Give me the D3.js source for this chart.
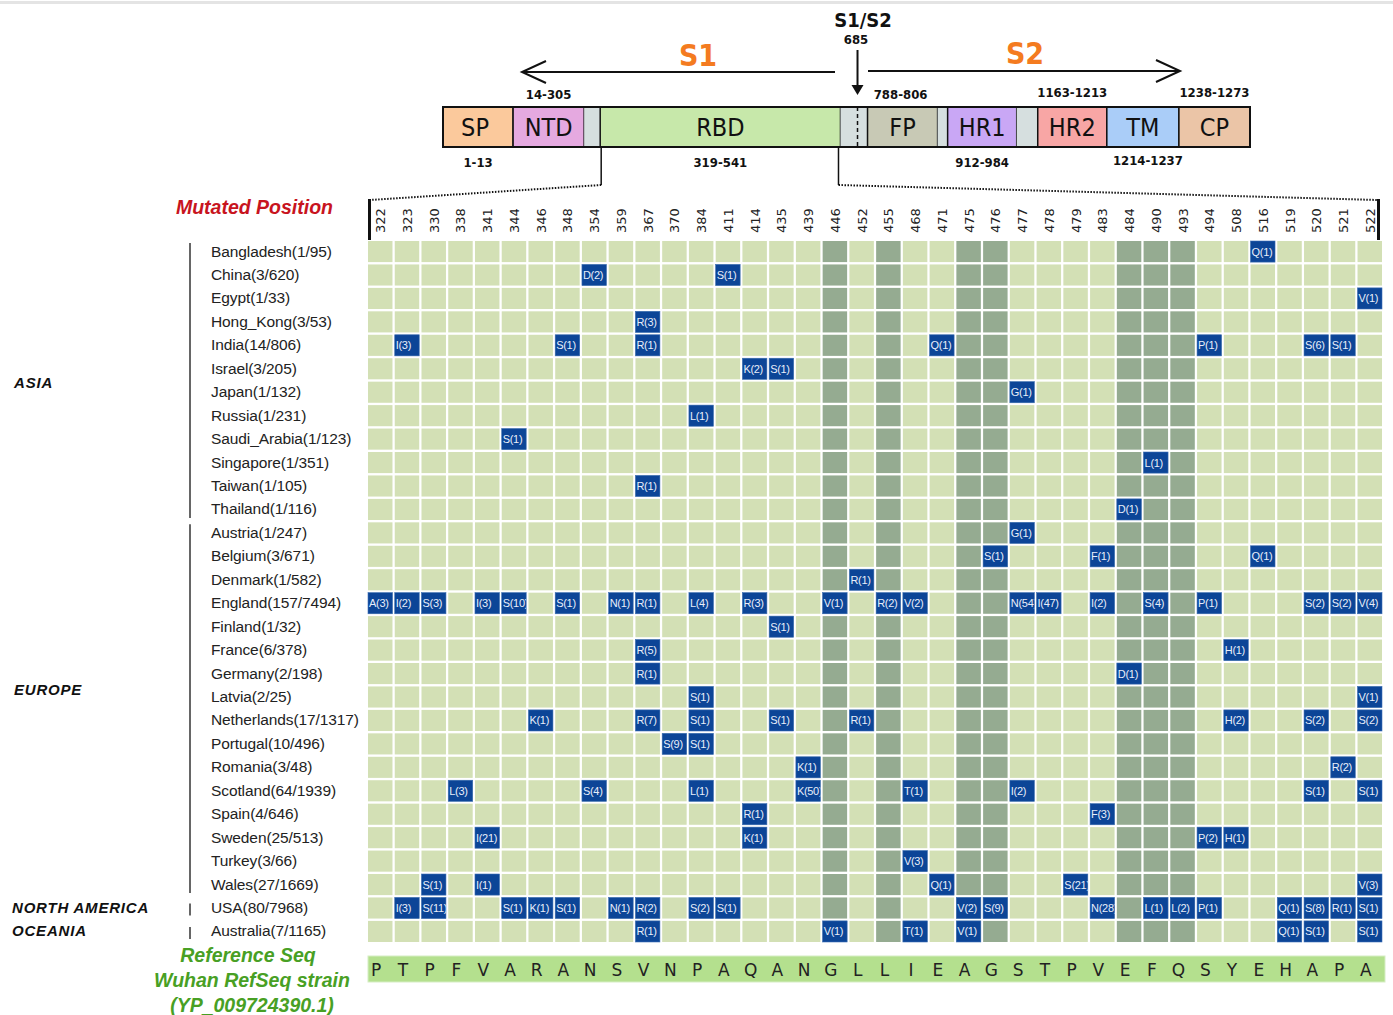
<!DOCTYPE html>
<html>
<head>
<meta charset="utf-8">
<script src="https://cdn.jsdelivr.net/npm/d3@7"></script>
<style>
  body { margin: 0; background: #fff; }
  svg { display: block; }
</style>
</head>
<body>
<script>
(function () {
  "use strict";

  // mutated positions in the RBD region (columns)
  var positions = [322, 323, 330, 338, 341, 344, 346, 348, 354, 359, 367, 370, 384, 411, 414, 435, 439,
    446, 452, 455, 468, 471, 475, 476, 477, 478, 479, 483, 484, 490, 493, 494, 508, 516, 519, 520, 521, 522];
  var refSeq = ["P", "T", "P", "F", "V", "A", "R", "A", "N", "S", "V", "N", "P", "A", "Q", "A", "N", "G", "L",
    "L", "I", "E", "A", "G", "S", "T", "P", "V", "E", "F", "Q", "S", "Y", "E", "H", "A", "P", "A"];
  // positions shaded as contact residues
  var contactPositions = [446, 455, 475, 476, 484, 490, 493];

  var countries = ["Bangladesh(1/95)", "China(3/620)", "Egypt(1/33)", "Hong_Kong(3/53)", "India(14/806)",
    "Israel(3/205)", "Japan(1/132)", "Russia(1/231)", "Saudi_Arabia(1/123)", "Singapore(1/351)",
    "Taiwan(1/105)", "Thailand(1/116)", "Austria(1/247)", "Belgium(3/671)", "Denmark(1/582)",
    "England(157/7494)", "Finland(1/32)", "France(6/378)", "Germany(2/198)", "Latvia(2/25)",
    "Netherlands(17/1317)", "Portugal(10/496)", "Romania(3/48)", "Scotland(64/1939)", "Spain(4/646)",
    "Sweden(25/513)", "Turkey(3/66)", "Wales(27/1669)", "USA(80/7968)", "Australia(7/1165)"];

  var regions = ["ASIA", "EUROPE", "NORTH AMERICA", "OCEANIA"];
  var regionFirst = [0, 12, 28, 29];
  var regionLast = [11, 27, 28, 29];

  // [row index, position, substitution(count)]
  var mutations = [
    [0, 516, "Q(1)"],
    [1, 354, "D(2)"], [1, 411, "S(1)"],
    [2, 522, "V(1)"],
    [3, 367, "R(3)"],
    [4, 323, "I(3)"], [4, 348, "S(1)"], [4, 367, "R(1)"], [4, 471, "Q(1)"], [4, 494, "P(1)"], [4, 520, "S(6)"], [4, 521, "S(1)"],
    [5, 414, "K(2)"], [5, 435, "S(1)"],
    [6, 477, "G(1)"],
    [7, 384, "L(1)"],
    [8, 344, "S(1)"],
    [9, 490, "L(1)"],
    [10, 367, "R(1)"],
    [11, 484, "D(1)"],
    [12, 477, "G(1)"],
    [13, 476, "S(1)"], [13, 483, "F(1)"], [13, 516, "Q(1)"],
    [14, 452, "R(1)"],
    [15, 322, "A(3)"], [15, 323, "I(2)"], [15, 330, "S(3)"], [15, 341, "I(3)"], [15, 344, "S(10)"], [15, 348, "S(1)"],
    [15, 359, "N(1)"], [15, 367, "R(1)"], [15, 384, "L(4)"], [15, 414, "R(3)"], [15, 446, "V(1)"], [15, 455, "R(2)"],
    [15, 468, "V(2)"], [15, 477, "N(54)"], [15, 478, "I(47)"], [15, 483, "I(2)"], [15, 490, "S(4)"], [15, 494, "P(1)"],
    [15, 520, "S(2)"], [15, 521, "S(2)"], [15, 522, "V(4)"],
    [16, 435, "S(1)"],
    [17, 367, "R(5)"], [17, 508, "H(1)"],
    [18, 367, "R(1)"], [18, 484, "D(1)"],
    [19, 384, "S(1)"], [19, 522, "V(1)"],
    [20, 346, "K(1)"], [20, 367, "R(7)"], [20, 384, "S(1)"], [20, 435, "S(1)"], [20, 452, "R(1)"], [20, 508, "H(2)"],
    [20, 520, "S(2)"], [20, 522, "S(2)"],
    [21, 370, "S(9)"], [21, 384, "S(1)"],
    [22, 439, "K(1)"], [22, 521, "R(2)"],
    [23, 338, "L(3)"], [23, 354, "S(4)"], [23, 384, "L(1)"], [23, 439, "K(50)"], [23, 468, "T(1)"], [23, 477, "I(2)"],
    [23, 520, "S(1)"], [23, 522, "S(1)"],
    [24, 414, "R(1)"], [24, 483, "F(3)"],
    [25, 341, "I(21)"], [25, 414, "K(1)"], [25, 494, "P(2)"], [25, 508, "H(1)"],
    [26, 468, "V(3)"],
    [27, 330, "S(1)"], [27, 341, "I(1)"], [27, 471, "Q(1)"], [27, 479, "S(21)"], [27, 522, "V(3)"],
    [28, 323, "I(3)"], [28, 330, "S(11)"], [28, 344, "S(1)"], [28, 346, "K(1)"], [28, 348, "S(1)"], [28, 359, "N(1)"],
    [28, 367, "R(2)"], [28, 384, "S(2)"], [28, 411, "S(1)"], [28, 475, "V(2)"], [28, 476, "S(9)"], [28, 483, "N(28)"],
    [28, 490, "L(1)"], [28, 493, "L(2)"], [28, 494, "P(1)"], [28, 519, "Q(1)"], [28, 520, "S(8)"], [28, 521, "R(1)"],
    [28, 522, "S(1)"],
    [29, 367, "R(1)"], [29, 446, "V(1)"], [29, 468, "T(1)"], [29, 475, "V(1)"], [29, 519, "Q(1)"], [29, 520, "S(1)"],
    [29, 522, "S(1)"]
  ];

  // spike protein domains
  var domainNames = ["SP", "NTD", "", "RBD", "", "FP", "", "HR1", "", "HR2", "TM", "CP"];
  var domainColors = ["#fbc99c", "#e5a9e0", "#d6dfdf", "#c7e8aa", "#d6dfdf", "#c8c9b5", "#d6dfdf",
    "#c9a7f5", "#d6dfdf", "#f8a6a5", "#aacdf8", "#ebc5a7"];
  var rangesAbove = ["", "14-305", "", "", "", "788-806", "", "", "", "1163-1213", "", "1238-1273"];
  var rangesBelow = ["1-13", "", "", "319-541", "", "", "", "912-984", "", "", "1214-1237", ""];

  var W = 1393, H = 1015;
  var svg = d3.select("body").append("svg")
      .attr("width", W)
      .attr("height", H);

  var font = "'Liberation Sans', Arial, sans-serif";
  var cond = "'DejaVu Sans Condensed', 'DejaVu Sans', sans-serif";

  svg.append("rect").attr("x", 0).attr("y", 1).attr("width", W).attr("height", 3).attr("fill", "#e4e4e4");

  // ---------- domain diagram ----------
  // schematic widths (not to scale, like the original)
  var widths = [70, 71, 16, 240, 27, 70, 10, 69, 21, 69, 72, 71];
  var edges = [0];
  widths.forEach(function (w, i) { edges.push(edges[i] + w); });
  var bx = d3.scaleLinear().domain([0, edges[edges.length - 1]]).range([443, 1250]);
  var barTop = 107, barH = 40;

  var dom = svg.append("g");
  dom.selectAll("rect.dom")
      .data(domainNames)
      .enter()
    .append("rect")
      .attr("class", "dom")
      .attr("x", function (d, i) { return bx(edges[i]); })
      .attr("y", barTop)
      .attr("width", function (d, i) { return bx(edges[i + 1]) - bx(edges[i]); })
      .attr("height", barH)
      .attr("fill", function (d, i) { return domainColors[i]; })
      .attr("stroke", function (d) { return d ? "#111" : "none"; })
      .attr("stroke-width", 1.5);
  dom.append("rect")
      .attr("x", bx(0)).attr("y", barTop)
      .attr("width", bx(edges[edges.length - 1]) - bx(0)).attr("height", barH)
      .attr("fill", "none").attr("stroke", "#111").attr("stroke-width", 2);
  dom.selectAll("text.dname")
      .data(domainNames)
      .enter()
    .append("text")
      .attr("class", "dname")
      .attr("x", function (d, i) { return (bx(edges[i]) + bx(edges[i + 1])) / 2 - (i === 0 ? 3 : 0); })
      .attr("y", barTop + 29)
      .attr("text-anchor", "middle")
      .style("font-family", cond)
      .style("font-size", "25px")
      .attr("fill", "#111")
      .text(function (d) { return d; });
  dom.selectAll("text.above")
      .data(rangesAbove)
      .enter()
    .append("text")
      .attr("class", "above")
      .attr("x", function (d, i) { return (bx(edges[i]) + bx(edges[i + 1])) / 2 + (i === 5 ? -2 : 0); })
      .attr("y", function (d, i) { return i >= 9 ? barTop - 10 : barTop - 8; })
      .attr("text-anchor", "middle")
      .style("font-family", cond)
      .style("font-size", "13px")
      .style("font-weight", "bold")
      .attr("fill", "#111")
      .text(function (d) { return d; });
  dom.selectAll("text.below")
      .data(rangesBelow)
      .enter()
    .append("text")
      .attr("class", "below")
      .attr("x", function (d, i) { return (bx(edges[i]) + bx(edges[i + 1])) / 2 + (i === 10 ? 5 : 0); })
      .attr("y", function (d, i) { return i === 10 ? barTop + 58 : barTop + 60; })
      .attr("text-anchor", "middle")
      .style("font-family", cond)
      .style("font-size", "13px")
      .style("font-weight", "bold")
      .attr("fill", "#111")
      .text(function (d) { return d; });

  // cleavage site dashed line
  var cleave = bx(edges[4] + 17);
  dom.append("line")
      .attr("x1", cleave).attr("x2", cleave)
      .attr("y1", barTop).attr("y2", barTop + barH)
      .attr("stroke", "#111").attr("stroke-width", 1.5).attr("stroke-dasharray", "4,3");

  // S1/S2 label and arrow
  dom.append("text").attr("x", 863).attr("y", 27).attr("text-anchor", "middle")
      .style("font-family", cond).style("font-size", "20px").style("font-weight", "bold")
      .attr("fill", "#111").text("S1/S2");
  dom.append("text").attr("x", 856).attr("y", 44).attr("text-anchor", "middle")
      .style("font-family", cond).style("font-size", "13px").style("font-weight", "bold")
      .attr("fill", "#111").text("685");
  dom.append("line").attr("x1", cleave).attr("x2", cleave).attr("y1", 50).attr("y2", 86)
      .attr("stroke", "#111").attr("stroke-width", 2);
  dom.append("path")
      .attr("d", "M" + (cleave - 6) + ",85L" + (cleave + 6) + ",85L" + cleave + ",95Z")
      .attr("fill", "#111");

  // S1 / S2 arrows
  var arrows = dom.append("g").attr("stroke", "#111").attr("stroke-width", 2).attr("fill", "none");
  arrows.append("line").attr("x1", 835).attr("x2", 522).attr("y1", 72).attr("y2", 72);
  arrows.append("path").attr("d", "M546,61L522,72L546,83");
  arrows.append("line").attr("x1", 868).attr("x2", 1180).attr("y1", 71).attr("y2", 71);
  arrows.append("path").attr("d", "M1156,60L1180,71L1156,82");
  dom.append("text").attr("x", 698).attr("y", 66).attr("text-anchor", "middle")
      .style("font-family", cond).style("font-size", "30px").style("font-weight", "bold")
      .attr("fill", "#f47b20").text("S1");
  dom.append("text").attr("x", 1025).attr("y", 64).attr("text-anchor", "middle")
      .style("font-family", cond).style("font-size", "30px").style("font-weight", "bold")
      .attr("fill", "#f47b20").text("S2");

  // ---------- mutation grid ----------
  var x = d3.scaleBand().domain(positions).range([368, 1382]).paddingInner(0.085);
  var y = d3.scaleBand().domain(d3.range(countries.length)).range([241, 942]).paddingInner(0.1);

  // zoom lines from RBD to grid
  var rbdL = bx(edges[3]) + 1, rbdR = bx(edges[4]) - 2;
  var zl = svg.append("g").attr("stroke", "#111").attr("fill", "none");
  zl.append("line").attr("x1", rbdL).attr("x2", rbdL).attr("y1", barTop + barH).attr("y2", 185).attr("stroke-width", 1.5);
  zl.append("line").attr("x1", rbdR).attr("x2", rbdR).attr("y1", barTop + barH).attr("y2", 185).attr("stroke-width", 1.5);
  zl.append("line").attr("x1", rbdL).attr("y1", 185).attr("x2", 370).attr("y2", 200)
      .attr("stroke-width", 2).attr("stroke-dasharray", "1.5,1.5");
  zl.append("line").attr("x1", rbdR).attr("y1", 185).attr("x2", 1378).attr("y2", 200)
      .attr("stroke-width", 2).attr("stroke-dasharray", "1.5,1.5");
  zl.append("line").attr("x1", 369.5).attr("x2", 369.5).attr("y1", 199).attr("y2", 240).attr("stroke-width", 3);
  zl.append("line").attr("x1", 1378.5).attr("x2", 1378.5).attr("y1", 199).attr("y2", 240).attr("stroke-width", 3);

  // column headers
  svg.append("g").selectAll("text")
      .data(positions)
      .enter()
    .append("text")
      .attr("transform", function (d) {
        return "translate(" + (x(d) + x.bandwidth() / 2 + 5) + ",233) rotate(-90)";
      })
      .style("font-family", "'DejaVu Sans', sans-serif")
      .style("font-size", "13px")
      .attr("fill", "#222")
      .text(function (d) { return d; });

  svg.append("text").attr("x", 333).attr("y", 214).attr("text-anchor", "end")
      .style("font-family", font).style("font-size", "19.5px").style("font-weight", "bold")
      .style("font-style", "italic").attr("fill", "#c8141e").text("Mutated Position");

  // background cells
  var cells = [];
  countries.forEach(function (c, r) {
    positions.forEach(function (p) { cells.push({ r: r, p: p }); });
  });
  svg.append("g").selectAll("rect")
      .data(cells)
      .enter()
    .append("rect")
      .attr("x", function (d) { return x(d.p); })
      .attr("y", function (d) { return y(d.r); })
      .attr("width", x.bandwidth())
      .attr("height", y.bandwidth())
      .attr("fill", function (d) { return contactPositions.indexOf(d.p) >= 0 ? "#95ab91" : "#d3e0b5"; });

  // mutation cells
  var defs = svg.append("defs");
  defs.selectAll("clipPath")
      .data(mutations)
      .enter()
    .append("clipPath")
      .attr("id", function (d, i) { return "clip" + i; })
    .append("rect")
      .attr("x", function (d) { return x(d[1]); })
      .attr("y", function (d) { return y(d[0]); })
      .attr("width", x.bandwidth())
      .attr("height", y.bandwidth());
  var mut = svg.append("g").selectAll("g")
      .data(mutations)
      .enter()
    .append("g");
  mut.append("rect")
      .attr("x", function (d) { return x(d[1]); })
      .attr("y", function (d) { return y(d[0]); })
      .attr("width", x.bandwidth())
      .attr("height", y.bandwidth())
      .attr("fill", "#0c4597")
      .attr("stroke", "#3d6fb8")
      .attr("stroke-width", 0.6);
  mut.append("text")
      .attr("clip-path", function (d, i) { return "url(#clip" + i + ")"; })
      .attr("x", function (d) { return x(d[1]) + 1; })
      .attr("y", function (d) { return y(d[0]) + y.bandwidth() / 2 + 4; })
      .style("font-family", font)
      .style("font-size", "11px")
      .style("letter-spacing", "-0.3px")
      .attr("fill", "#e8eefa")
      .text(function (d) { return d[2]; });

  // country labels
  svg.append("g").selectAll("text")
      .data(countries)
      .enter()
    .append("text")
      .attr("x", 211)
      .attr("y", function (d, i) { return y(i) + y.bandwidth() / 2 + 5; })
      .style("font-family", font)
      .style("font-size", "15.5px")
      .style("letter-spacing", "-0.1px")
      .attr("fill", "#222")
      .text(function (d) { return d; });

  // region brackets and labels
  var reg = svg.append("g");
  reg.selectAll("line")
      .data(regions)
      .enter()
    .append("line")
      .attr("x1", 190).attr("x2", 190)
      .attr("y1", function (d, i) { return regionFirst[i] === regionLast[i] ? y(regionFirst[i]) + 6 : y(regionFirst[i]) + 2; })
      .attr("y2", function (d, i) { return regionFirst[i] === regionLast[i] ? y(regionLast[i]) + 18 : y(regionLast[i]) + y.bandwidth() - 2; })
      .attr("stroke", "#666").attr("stroke-width", 2);
  reg.selectAll("text")
      .data(regions)
      .enter()
    .append("text")
      .attr("x", function (d, i) { return i < 2 ? 14 : 12; })
      .attr("y", function (d, i) {
        var mid = (y(regionFirst[i]) + y(regionLast[i]) + y.bandwidth()) / 2;
        return i === 0 ? mid + 8 : (i === 1 ? mid - 14 : mid + 5);
      })
      .style("font-family", font)
      .style("font-size", "15px")
      .style("font-weight", "bold")
      .style("font-style", "italic")
      .style("letter-spacing", "0.8px")
      .attr("fill", "#111")
      .text(function (d) { return d; });

  // reference sequence
  svg.append("rect").attr("x", 368).attr("y", 956).attr("width", 1385 - 368).attr("height", 26)
      .attr("fill", "#b4e08e").attr("stroke", "#d6eec4");
  svg.append("g").selectAll("text")
      .data(refSeq)
      .enter()
    .append("text")
      .attr("x", function (d, i) { return x(positions[i]) + x.bandwidth() / 2 - 4; })
      .attr("y", 976)
      .attr("text-anchor", "middle")
      .style("font-family", "'DejaVu Sans', sans-serif")
      .style("font-size", "17px")
      .attr("fill", "#222")
      .text(function (d) { return d; });

  var refLabel = ["Reference Seq", "Wuhan RefSeq strain", "(YP_009724390.1)"];
  svg.append("g").selectAll("text")
      .data(refLabel)
      .enter()
    .append("text")
      .attr("x", function (d, i) { return i === 0 ? 248 : 252; })
      .attr("y", function (d, i) { return 962 + i * 25; })
      .attr("text-anchor", "middle")
      .style("font-family", font)
      .style("font-size", "19.5px")
      .style("font-weight", "bold")
      .style("font-style", "italic")
      .attr("fill", "#48a024")
      .text(function (d) { return d; });
}());
</script>
</body>
</html>
